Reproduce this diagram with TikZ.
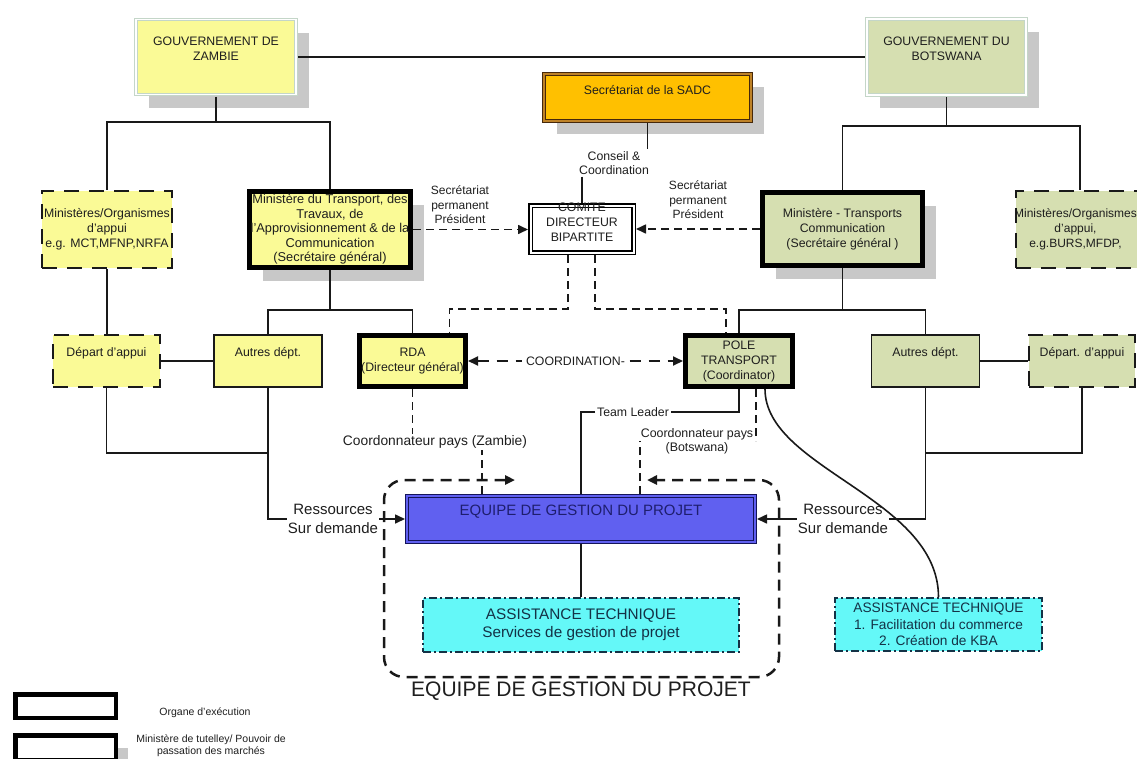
\documentclass[tikz,border=0pt]{standalone}
\usepackage{fontspec}
\setmainfont{Liberation Sans}
\usetikzlibrary{arrows.meta,shadows}
\definecolor{zyel}{RGB}{250,250,150}
\definecolor{bgrn}{RGB}{214,223,177}
\definecolor{shadc}{RGB}{200,200,200}
\definecolor{govb}{RGB}{196,214,200}
\definecolor{sadcf}{RGB}{255,192,0}
\definecolor{sadcb}{RGB}{70,40,10}
\definecolor{sadcd}{RGB}{190,130,40}
\definecolor{eqf}{RGB}{96,96,240}
\definecolor{eqb}{RGB}{20,20,90}
\definecolor{eqt}{RGB}{30,30,110}
\definecolor{cyf}{RGB}{100,248,248}
\definecolor{cyt}{RGB}{20,50,70}
\definecolor{txt}{RGB}{30,30,30}
\definecolor{ln}{RGB}{25,25,25}
\begin{document}
\begin{tikzpicture}[x=1pt,y=-1pt,
  every node/.style={font=\fontsize{12.3}{15}\selectfont, text=txt, inner sep=0pt, outer sep=0pt, align=center},
  sz/.style 2 args={minimum width=#1pt, minimum height=#2pt},
  shad/.style={general shadow={fill=shadc, shadow xshift=13pt, shadow yshift=-13pt}},
  gov/.style={draw=govb, line width=1.2pt, double=white, double distance=1.4pt, outer sep=2pt},
  thickb/.style={draw=black, line width=5pt, outer sep=2.5pt},
  solidb/.style={draw=ln, line width=1.5pt, outer sep=0.75pt},
  dashb/.style={draw=ln, line width=2pt, dash pattern=on 15pt off 10pt, outer sep=1pt},
  dotb/.style={draw=cyt, line width=1.5pt, dash pattern=on 8pt off 3pt on 2pt off 3pt, outer sep=0.75pt},
  conn/.style={draw=ln, line width=1.6pt},
  dsh/.style={conn, dash pattern=on 8pt off 5pt},
  dshb/.style={conn, line width=1.8pt, dash pattern=on 11pt off 8pt},
  rdsh/.style={conn, line width=2.5pt, dash pattern=on 11pt off 7pt},
  tip/.style={-{Triangle[length=10pt,width=9pt]}},
  tips/.style={{Triangle[length=10pt,width=9pt]}-{Triangle[length=10pt,width=9pt]}},
]
\useasboundingbox (0,0) rectangle (1137,758);

% --- top row
\node[gov, fill=zyel, shad, sz={160}{75}, label={[yshift=8.5pt]center:{GOUVERNEMENT DE\\ZAMBIE}}] (gz) at (216,57) {};
\node[gov, fill=bgrn, shad, sz={159}{76}, label={[yshift=8.5pt]center:{GOUVERNEMENT DU\\BOTSWANA}}] (gb) at (946.5,57) {};
\node[draw=sadcb, line width=1.2pt, double=sadcd, double distance=1.5pt, outer sep=2pt, fill=sadcf, shad, sz={207}{47}, label={[yshift=7.5pt]center:{Secrétariat de la SADC}}] (sadc) at (647.5,97.5) {};

% --- ministries row
\node[dashb, fill=zyel, sz={130}{77}] (mz) at (107,229.5) {Ministères/Organismes\\d'appui\\e.g. MCT,MFNP,NRFA};
\node[thickb, fill=zyel, shad, sz={161}{76}, font=\fontsize{12.8}{14.5}\selectfont] (mt) at (330,229.5) {Ministère du Transport, des\\Travaux, de\\l'Approvisionnement \& de la\\Communication\\(Secrétaire général)};
\node[draw=black, line width=1.5pt, double=white, double distance=2pt, outer sep=2.5pt, fill=white, sz={103}{47}, label={[yshift=7pt]center:{COMITE\\DIRECTEUR\\BIPARTITE}}] (com) at (582,229) {};
\node[thickb, fill=bgrn, shad, sz={160}{73}] (mtc) at (842.5,229) {Ministère - Transports\\Communication\\(Secrétaire général )};
\node[dashb, fill=bgrn, sz={128}{77}, label={[xshift=-4.5pt, font=\fontsize{12}{15}\selectfont]center:{Ministères/Organismes\\d'appui,\\e.g.BURS,MFDP,}}] (mb) at (1080,229.5) {};

% --- department row
\node[dashb, fill=zyel, sz={107}{52}, label={[yshift=8pt]center:{Départ d'appui}}] (dz) at (106.5,361) {};
\node[solidb, fill=zyel, sz={108}{52}, label={[yshift=8pt]center:{Autres dépt.}}] (az) at (268,361) {};
\node[thickb, fill=zyel, sz={106}{51}] (rda) at (412.5,361) {RDA\\(Directeur général)};
\node[thickb, fill=bgrn, sz={107}{51}] (pole) at (739,361) {POLE\\TRANSPORT\\(Coordinator)};
\node[solidb, fill=bgrn, sz={108}{52}, label={[yshift=8pt]center:{Autres dépt.}}] (ab) at (925.5,361) {};
\node[dashb, fill=bgrn, sz={106}{52}, label={[yshift=8pt]center:{Départ. d'appui}}] (db) at (1082,361) {};

% --- project team
\node[draw=eqb, line width=1.2pt, double=eqf, double distance=1.5pt, outer sep=2pt, fill=eqf, sz={348}{46}, label={[yshift=7pt, font=\fontsize{15}{18}\selectfont, text=eqt]center:{EQUIPE DE GESTION DU PROJET}}] (eq) at (581,519) {};
\node[dotb, fill=cyf, sz={316}{54}, font=\fontsize{15.3}{18}\selectfont, text=cyt] (at) at (581,625) {ASSISTANCE TECHNIQUE\\Services de gestion de projet};
\node[dotb, fill=cyf, sz={207}{53}, font=\fontsize{13.7}{16.5}\selectfont, text=cyt] (atb) at (938.5,624.5) {ASSISTANCE TECHNIQUE\\1. Facilitation du commerce\\2. Création de KBA};

% --- free labels
\node[font=\fontsize{12}{14.5}\selectfont] (spl) at (460,205) {Secrétariat\\permanent\\Président};
\node[font=\fontsize{12}{14.5}\selectfont] (spr) at (698,200) {Secrétariat\\permanent\\Président};
\node[font=\fontsize{12.3}{14}\selectfont, inner sep=2pt] (cc) at (614,163) {Conseil \&\\Coordination};
\node[inner xsep=2pt] (tl) at (633,412) {Team Leader};
\node[font=\fontsize{13.8}{16}\selectfont, inner sep=2pt] (czm) at (435,442) {Coordonnateur pays (Zambie)};
\node[font=\fontsize{12.4}{14}\selectfont, inner sep=1pt] (cbw) at (697,441) {Coordonnateur pays\\(Botswana)};

% --- connectors
\draw[conn] (gz.east) -- (gb.west);
\coordinate (zj) at (216,122);
\draw[conn] (gz.south) -- (zj);
\draw[conn] (mz.north) |- (zj) -| (mt.north);
\coordinate (bj) at (946.5,126);
\draw[conn] (gb.south) -- (bj);
\draw[conn] (mtc.north) |- (bj) -| (mb.north);
\draw[conn] (sadc.south) -- (sadc.south |- cc.north);
\draw[conn] (com.north |- cc.south) -- (com.north);

\draw[dsh, tip] (mt.east) -- (mt.east -| com.west);
\draw[dsh, tip] (mtc.west) -- (mtc.west -| com.east);

\draw[dsh] ([xshift=-14pt]com.south) -- ++(0,54) -| ([xshift=37pt]rda.north);
\draw[dsh] ([xshift=13pt]com.south) -- ++(0,54) -| ([xshift=-13pt]pole.north);

\coordinate (tj) at (330,310);
\draw[conn] (mt.south) -- (tj);
\draw[conn] (az.north) |- (tj) -| (rda.north);
\coordinate (cj) at (842.5,310);
\draw[conn] (mtc.south) -- (cj);
\draw[conn] (pole.north) |- (cj) -| (ab.north);

\draw[conn] (mz.south) -- (mz.south |- dz.north);
\draw[conn] (dz.east) -- (az.west);
\draw[conn] (ab.east) -- (db.west);
\coordinate (zl) at (268,453);
\draw[conn] (dz.south) |- (zl);
\coordinate (bl) at (925.5,453);
\draw[conn] (db.south) |- (bl);

\draw[dshb, tips] (rda.east) -- (pole.west) node[midway, fill=white, inner xsep=4pt, inner ysep=2pt] (coord) {COORDINATION-};

\draw[conn] (pole.south) |- (tl.east);
\draw[conn] (tl.west) -| (eq.north);

\draw[dsh] (rda.south) -- (rda.south |- czm.north);
\draw[dsh] ([xshift=-99pt]eq.north) -- ([xshift=-99pt]eq.north |- czm.south);
\draw[dsh] ([xshift=17pt]pole.south) -- ([xshift=17pt]pole.south |- cbw.center);
\draw[dsh] ([xshift=59pt]eq.north) -- ([xshift=59pt]eq.north |- cbw.center);

% project frame
\draw[rdsh, rounded corners=20pt, tips] (515,480) -- (384,480) -- (384,677) -- (779,677) -- (779,480) -- (647,480);
\node[font=\fontsize{21}{24}\selectfont, text=txt] (eqlbl) at (581,691) {EQUIPE DE GESTION DU PROJET};

\draw[conn, tip] (az.south) |- (eq.west);
\draw[conn, tip] (ab.south) |- (eq.east);
\node[font=\fontsize{15}{19}\selectfont, fill=white, inner sep=1pt] (rsl) at (333,519) {Ressources\\Sur demande};
\node[font=\fontsize{15}{19}\selectfont, fill=white, inner sep=1pt] (rsr) at (843,519) {Ressources\\Sur demande};

\draw[conn] (eq.south) -- (at.north);
\draw[conn] ([xshift=26pt]pole.south) .. controls +(0,80) and +(0,-100) .. (atb.north);

% --- legend
\node[thickb, line width=4.5pt, fill=white, sz={100.5}{23.5}] (lg1) at (65.5,706) {};
\node[font=\fontsize{10.5}{12}\selectfont] (lgt1) at (205,713) {Organe d'exécution};
\node[thickb, line width=4.5pt, fill=white, general shadow={fill=shadc, shadow xshift=12pt, shadow yshift=-12pt}, sz={100.5}{25}] (lg2) at (65.5,748) {};
\node[font=\fontsize{10.5}{12}\selectfont] (lgt2) at (211,746) {Ministère de tutelley/ Pouvoir de\\passation des marchés};
\end{tikzpicture}
\end{document}
